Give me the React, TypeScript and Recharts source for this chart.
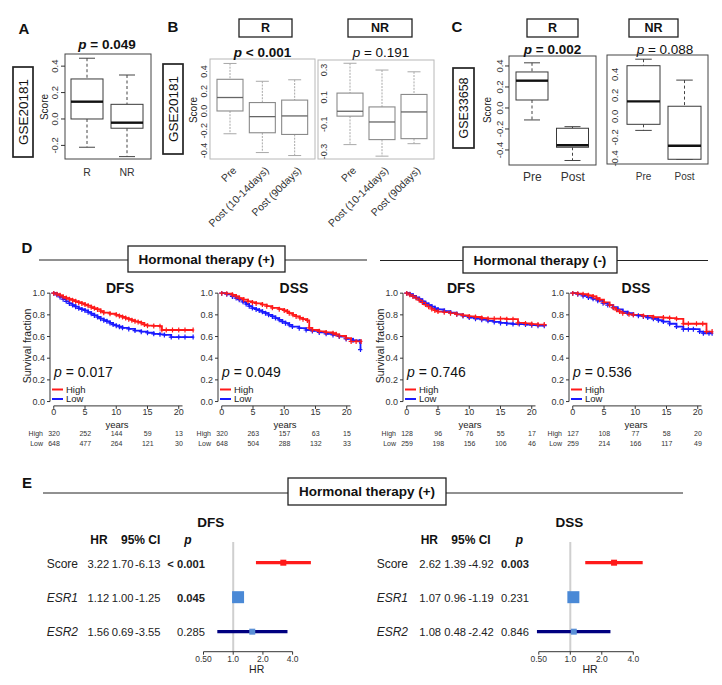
import React from 'react';
import {
  Bar,
  BarChart,
  Line,
  LineChart,
  ReferenceLine,
  Scatter,
  ScatterChart,
  XAxis,
  YAxis,
} from 'recharts';

const FONT = '"Liberation Sans", Arial, Helvetica, sans-serif';

type Box = { name: string; min: number; q1: number; med: number; q3: number; max: number };

// A: GSE20181, responders vs non-responders
const boxA: Box[] = [
  { name: 'R', min: -0.214, q1: 0.0, med: 0.131, q3: 0.303, max: 0.46 },
  { name: 'NR', min: -0.285, q1: -0.07, med: -0.028, q3: 0.111, max: 0.333 },
];
// B: GSE20181 time course
const boxBR: Box[] = [
  { name: 'Pre', min: -0.23, q1: 0.0, med: 0.136, q3: 0.32, max: 0.48 },
  { name: 'Post (10-14days)', min: -0.42, q1: -0.22, med: -0.057, q3: 0.085, max: 0.3 },
  { name: 'Post (90days)', min: -0.45, q1: -0.237, med: -0.05, q3: 0.11, max: 0.315 },
];
const boxBNR: Box[] = [
  { name: 'Pre', min: -0.25, q1: -0.04, med: -0.004, q3: 0.13, max: 0.35 },
  { name: 'Post (10-14days)', min: -0.335, q1: -0.213, med: -0.083, q3: 0.028, max: 0.3 },
  { name: 'Post (90days)', min: -0.243, q1: -0.206, med: -0.009, q3: 0.12, max: 0.287 },
];
// C: GSE33658
const boxCR: Box[] = [
  { name: 'Pre', min: -0.114, q1: 0.076, med: 0.26, q3: 0.343, max: 0.43 },
  { name: 'Post', min: -0.5, q1: -0.374, med: -0.355, q3: -0.193, max: -0.178 },
];
const boxCNR: Box[] = [
  { name: 'Pre', min: -0.133, q1: -0.075, med: 0.143, q3: 0.483, max: 0.545 },
  { name: 'Post', min: -0.408, q1: -0.408, med: -0.279, q3: 0.097, max: 0.346 },
];

const ticksA = [-0.2, 0, 0.2, 0.4];
const ticksBR = [-0.4, -0.2, 0, 0.2, 0.4];
const ticksBNR = [-0.3, -0.1, 0.1, 0.3];
const ticksC = [-0.4, -0.2, 0, 0.2, 0.4];

// D: Kaplan-Meier curves [years, survival]
const dfsPosHigh: [number, number][] = [
  [0, 1], [0.5, 0.99], [1, 0.98], [1.5, 0.965], [2, 0.955], [2.5, 0.945], [3, 0.935], [3.5, 0.925],
  [4, 0.915], [4.5, 0.905], [5, 0.895], [5.5, 0.885], [6, 0.87], [6.5, 0.86], [7, 0.85], [7.5, 0.835],
  [8, 0.82], [9, 0.81], [10, 0.8], [10.5, 0.79], [11, 0.78], [11.5, 0.77], [12, 0.76], [12.5, 0.75],
  [13, 0.74], [13.5, 0.735], [14, 0.725], [14.5, 0.71], [15, 0.7], [16, 0.698], [17, 0.695],
  [17.3, 0.66], [18, 0.66], [19, 0.66], [20, 0.66], [21, 0.66], [22.3, 0.66],
];
const dfsPosLow: [number, number][] = [
  [0, 1], [0.5, 0.985], [1, 0.965], [1.5, 0.945], [2, 0.925], [2.5, 0.905], [3, 0.89], [3.5, 0.875],
  [4, 0.86], [4.5, 0.85], [5, 0.84], [5.5, 0.825], [6, 0.81], [6.5, 0.795], [7, 0.78], [7.5, 0.765],
  [8, 0.75], [8.5, 0.74], [9, 0.725], [9.5, 0.71], [10, 0.7], [10.5, 0.69], [11, 0.68], [12, 0.67],
  [13, 0.655], [14, 0.645], [15, 0.635], [16, 0.625], [17, 0.62], [17.7, 0.615], [18.8, 0.595],
  [20, 0.595], [21, 0.595], [22.3, 0.595],
];
const dssPosHigh: [number, number][] = [
  [0, 1], [0.8, 0.995], [1.7, 0.985], [2.3, 0.97], [2.8, 0.955], [3.5, 0.94], [4.2, 0.925], [4.9, 0.915],
  [5.5, 0.905], [6.5, 0.895], [7.2, 0.88], [8.1, 0.865], [9.2, 0.852], [10, 0.84], [10.5, 0.83],
  [10.8, 0.815], [11.4, 0.8], [11.9, 0.785], [12.5, 0.772], [13, 0.76], [13.7, 0.748], [14, 0.68],
  [14.5, 0.66], [15.6, 0.648], [16.7, 0.638], [17.8, 0.63], [18.3, 0.62], [18.8, 0.605], [19.9, 0.585],
  [20.7, 0.555], [21.5, 0.555], [22.3, 0.555],
];
const dssPosLow: [number, number][] = [
  [0, 1], [0.8, 0.99], [1.7, 0.97], [2.3, 0.955], [2.8, 0.94], [3.4, 0.92], [3.9, 0.9], [4.4, 0.88],
  [4.9, 0.862], [5.5, 0.85], [6, 0.84], [6.5, 0.828], [7, 0.815], [7.5, 0.8], [8.1, 0.785], [8.6, 0.77],
  [9.2, 0.754], [9.7, 0.738], [10.2, 0.723], [10.8, 0.708], [11.3, 0.692], [12.4, 0.677], [13.5, 0.66],
  [14.5, 0.652], [15.6, 0.638], [16.7, 0.625], [17.8, 0.615], [18.8, 0.6], [19.9, 0.578], [21, 0.565],
  [22.1, 0.555], [22.2, 0.48],
];
const dfsNegHigh: [number, number][] = [
  [0, 1], [0.5, 0.985], [1, 0.97], [1.5, 0.955], [2, 0.935], [2.5, 0.915], [3, 0.895], [3.5, 0.875],
  [4, 0.855], [4.5, 0.84], [5, 0.83], [6, 0.825], [7, 0.815], [8, 0.805], [9, 0.795], [10, 0.785],
  [11, 0.78], [12, 0.77], [13, 0.765], [14, 0.765], [15, 0.765], [16, 0.76], [17, 0.76], [17.8, 0.725],
  [19, 0.72], [20, 0.715], [21, 0.71], [22, 0.71],
];
const dfsNegLow: [number, number][] = [
  [0, 1], [0.5, 0.99], [1, 0.975], [1.5, 0.96], [2, 0.945], [2.5, 0.925], [3, 0.905], [3.5, 0.89],
  [4, 0.875], [4.5, 0.86], [5, 0.85], [6, 0.835], [7, 0.82], [8, 0.805], [9, 0.79], [10, 0.775],
  [11, 0.765], [12, 0.755], [13, 0.745], [14, 0.735], [15, 0.725], [16, 0.72], [17, 0.715], [18, 0.715],
  [19, 0.71], [20, 0.705], [21, 0.7], [22, 0.7],
];
const dssNegHigh: [number, number][] = [
  [0, 1], [0.8, 0.995], [1.65, 0.99], [2.5, 0.98], [3.25, 0.97], [3.8, 0.955], [4.3, 0.94], [5, 0.915],
  [5.9, 0.89], [6.5, 0.865], [7, 0.846], [7.5, 0.83], [8, 0.815], [9, 0.805], [9.7, 0.8], [11.3, 0.79],
  [12.9, 0.778], [14.5, 0.775], [15.5, 0.77], [16.6, 0.763], [17.7, 0.718], [18.5, 0.718], [19.8, 0.718],
  [20.8, 0.718], [21.4, 0.646], [22.3, 0.646],
];
const dssNegLow: [number, number][] = [
  [0, 1], [0.8, 0.99], [1.65, 0.975], [2.5, 0.96], [3.25, 0.948], [4, 0.93], [4.85, 0.908], [5.6, 0.89],
  [6.45, 0.87], [7.2, 0.85], [8, 0.83], [8.8, 0.815], [9.7, 0.8], [10.5, 0.792], [11.3, 0.785], [12, 0.775],
  [12.9, 0.763], [13.7, 0.75], [14.5, 0.738], [15.5, 0.718], [16.6, 0.692], [17.7, 0.668], [18.5, 0.668],
  [19.3, 0.668], [20.3, 0.646], [20.9, 0.63], [21.8, 0.63], [22.3, 0.63],
];

const kmYears = [0, 5, 10, 15, 20];
const kmSurvTicks = [0, 0.2, 0.4, 0.6, 0.8, 1];
const kmPValues = ['0.017', '0.049', '0.746', '0.536'];

// numbers at risk at 0, 5, 10, 15, 20 years
const riskDfsPosHigh = [320, 252, 144, 59, 13];
const riskDfsPosLow = [648, 477, 264, 121, 30];
const riskDssPosHigh = [320, 263, 157, 63, 15];
const riskDssPosLow = [648, 504, 288, 132, 33];
const riskDfsNegHigh = [128, 96, 76, 55, 17];
const riskDfsNegLow = [259, 198, 156, 106, 46];
const riskDssNegHigh = [127, 108, 77, 58, 20];
const riskDssNegLow = [259, 214, 166, 117, 49];

// E: multivariate Cox, hormonal therapy (+)
const forestVars = ['Score', 'ESR1', 'ESR2'];
const forestRowPos = [3, 2, 1];
const dfsHR = [3.22, 1.12, 1.56];
const dfsLow = [1.7, 1.0, 0.69];
const dfsHigh = [6.13, 1.25, 3.55];
const dfsP = ['< 0.001', '0.045', '0.285'];
const dssHR = [2.62, 1.07, 1.08];
const dssLow = [1.39, 0.96, 0.48];
const dssHigh = [4.92, 1.19, 2.42];
const dssP = ['0.003', '0.231', '0.846'];
const forestTicks = [0.5, 1, 2, 4];

const RED = '#ff1a1a';
const BLUE = '#1a1aff';

type Look = { stroke: string; lw: number; median: string; medianW: number; whisker: string; dash: string };
const darkLook: Look = { stroke: '#3a3a3a', lw: 1, median: '#111', medianW: 2.4, whisker: '#444', dash: '3,2.5' };
const greyLook: Look = { stroke: '#8a8a8a', lw: 1.1, median: '#666', medianW: 1.3, whisker: '#a8a8a8', dash: '2,1.2' };

function boxShape(look: Look) {
  return (props: any) => {
    const { x, y, width, height, payload } = props;
    const d: Box = payload;
    const top = Math.min(y, y + height);
    const bot = Math.max(y, y + height);
    const py = (v: number) => top + ((d.max - v) / (d.max - d.min)) * (bot - top);
    const cx = x + width / 2;
    const cap = width / 4;
    return (
      <g>
        <line x1={cx} x2={cx} y1={py(d.max)} y2={py(d.q3)} stroke={look.whisker} strokeDasharray={look.dash} />
        <line x1={cx} x2={cx} y1={py(d.q1)} y2={py(d.min)} stroke={look.whisker} strokeDasharray={look.dash} />
        <line x1={cx - cap} x2={cx + cap} y1={py(d.max)} y2={py(d.max)} stroke={look.whisker} />
        <line x1={cx - cap} x2={cx + cap} y1={py(d.min)} y2={py(d.min)} stroke={look.whisker} />
        <rect x={x} y={py(d.q3)} width={width} height={py(d.q1) - py(d.q3)} fill="#fff" stroke={look.stroke} strokeWidth={look.lw} />
        <line x1={x} x2={x + width} y1={py(d.med)} y2={py(d.med)} stroke={look.median} strokeWidth={look.medianW} />
      </g>
    );
  };
}

type BoxPanelProps = {
  data: Box[];
  domain: [number, number];
  ticks: number[];
  plotL: number;
  plotR: number;
  top: number;
  h: number;
  pad: [number, number];
  barSize: number;
  look: Look;
  yTickSize: number;
  yTickGap: number;
  yFont: number;
  rotX?: boolean;
  xFont: number;
  xDy: number;
  tickColor: string;
};

const M = 8; // spare room around every chart so edge labels are not clipped

function BoxPanel(p: BoxPanelProps) {
  const wy = 30;
  const hx = p.rotX ? 80 : 30;
  const plotW = p.plotR - p.plotL;
  return (
    <div style={{ position: 'absolute', left: p.plotL - wy, top: p.top - M }}>
      <BarChart
        width={wy + plotW + M}
        height={p.h + hx + M}
        data={p.data}
        margin={{ top: M, right: M, bottom: 0, left: 0 }}
      >
        <XAxis
          dataKey="name"
          type="category"
          interval={0}
          padding={{ left: p.pad[0], right: p.pad[1] }}
          axisLine={false}
          tickLine={false}
          tickSize={0}
          tickMargin={0}
          height={hx}
          tick={(t: any) =>
            p.rotX ? (
              <text
                x={t.x + 7}
                y={t.y + 12}
                transform={`rotate(-45 ${t.x + 7} ${t.y + 12})`}
                textAnchor="end"
                fontSize={p.xFont}
                fill={p.tickColor}
                fontFamily={FONT}
              >
                {t.payload.value}
              </text>
            ) : (
              <text x={t.x} y={t.y + p.xDy} textAnchor="middle" fontSize={p.xFont} fill={p.tickColor} fontFamily={FONT}>
                {t.payload.value}
              </text>
            )
          }
        />
        <YAxis
          type="number"
          domain={p.domain}
          ticks={p.ticks}
          interval={0}
          allowDataOverflow
          width={wy}
          axisLine={false}
          tickLine={p.yTickSize > 0 ? { stroke: p.tickColor } : false}
          tickSize={p.yTickSize}
          tickMargin={p.yTickGap}
          tick={(t: any) => (
            <text
              x={t.x}
              y={t.y}
              transform={`rotate(-90 ${t.x} ${t.y})`}
              textAnchor="middle"
              fontSize={p.yFont}
              fill={p.tickColor}
              fontFamily={FONT}
            >
              {Number(t.payload.value).toFixed(1)}
            </text>
          )}
        />
        <Bar
          dataKey={(d: Box) => [d.min, d.max]}
          barSize={p.barSize}
          isAnimationActive={false}
          shape={boxShape(p.look)}
        />
      </BarChart>
    </div>
  );
}

const plusDot = (color: string) => (d: any) => (
  <path
    key={`c${d.index}`}
    d={`M${d.cx - 2.5},${d.cy}h5M${d.cx},${d.cy - 2.5}v5`}
    stroke={color}
    strokeWidth={1.2}
    fill="none"
  />
);

const KM_PX_YEAR = 6.25;
const KM_TOP = 291.1;
const KM_H = 114.9;

function KMPanel({ x0, high, low }: { x0: number; high: [number, number][]; low: [number, number][] }) {
  const wy = 30;
  const hx = 16;
  const plotW = 23.1 * KM_PX_YEAR;
  const toRows = (arr: [number, number][]) => arr.map(([t, s]) => ({ t, s }));
  return (
    <div style={{ position: 'absolute', left: x0 - 0.6 * KM_PX_YEAR - wy, top: KM_TOP - M }}>
      <LineChart
        width={wy + plotW + M}
        height={KM_H + hx + M}
        margin={{ top: M, right: M, bottom: 0, left: 0 }}
      >
        <XAxis
          type="number"
          dataKey="t"
          domain={[-0.6, 22.5]}
          ticks={kmYears}
          interval={0}
          allowDataOverflow
          axisLine={false}
          tickSize={3}
          tickMargin={0}
          height={hx}
          tickLine={{ stroke: '#333' }}
          tick={{ fontSize: 9, fill: '#333', fontFamily: FONT }}
        />
        <YAxis
          type="number"
          domain={[-0.04, 1.02]}
          ticks={kmSurvTicks}
          interval={0}
          allowDataOverflow
          width={wy}
          axisLine={false}
          tickSize={3}
          tickMargin={2}
          tickLine={{ stroke: '#333' }}
          tickFormatter={(v: number) => v.toFixed(1)}
          tick={{ fontSize: 9, fill: '#333', fontFamily: FONT }}
        />
        <ReferenceLine segment={[{ x: 0, y: -0.04 }, { x: 20.6, y: -0.04 }]} stroke="#333" ifOverflow="visible" />
        <ReferenceLine segment={[{ x: -0.6, y: 0 }, { x: -0.6, y: 1 }]} stroke="#333" ifOverflow="visible" />
        <Line
          data={toRows(low)}
          dataKey="s"
          type="stepAfter"
          stroke={BLUE}
          strokeWidth={1.8}
          dot={plusDot(BLUE)}
          isAnimationActive={false}
        />
        <Line
          data={toRows(high)}
          dataKey="s"
          type="stepAfter"
          stroke={RED}
          strokeWidth={1.8}
          dot={plusDot(RED)}
          isAnimationActive={false}
        />
      </LineChart>
    </div>
  );
}

const rowStyle = [
  { line: RED, point: RED, size: 6 },
  { line: '#000080', point: '#4a89d6', size: 12 },
  { line: '#000080', point: '#5b90d6', size: 6 },
];

const emptyShape = () => <g />;
const squareShape = (size: number, fill: string) => (s: any) => (
  <rect x={s.cx - size / 2} y={s.cy - size / 2} width={size} height={size} fill={fill} />
);

const FOREST_TOP = 542.3;
const FOREST_H = 109.7;

function ForestPanel({ hr1X, per2, hr, lo, hi }: { hr1X: number; per2: number; hr: number[]; lo: number[]; hi: number[] }) {
  const plotL = hr1X + Math.log2(0.45) * per2;
  const plotW = (Math.log2(7) - Math.log2(0.45)) * per2;
  const hx = 16;
  const side = 12;
  return (
    <div style={{ position: 'absolute', left: plotL - side, top: FOREST_TOP }}>
      <ScatterChart
        width={plotW + 2 * side}
        height={FOREST_H + hx}
        margin={{ top: 0, right: side, bottom: 0, left: side }}
      >
        <XAxis
          type="number"
          dataKey="hr"
          scale="log"
          domain={[0.45, 7]}
          ticks={forestTicks}
          interval={0}
          allowDataOverflow
          axisLine={false}
          tickSize={3}
          tickMargin={1}
          height={hx}
          tickLine={{ stroke: '#333' }}
          tickFormatter={(v: number) => (v === 0.5 ? '0.50' : v.toFixed(1))}
          tick={{ fontSize: 8.5, fill: '#333', fontFamily: FONT }}
        />
        <YAxis type="number" dataKey="row" domain={[0.42, 3.6]} hide width={0} />
        <ReferenceLine x={1} stroke="#cfcfcf" strokeWidth={2} />
        <ReferenceLine segment={[{ x: 0.5, y: 0.42 }, { x: 4, y: 0.42 }]} stroke="#333" ifOverflow="visible" />
        {forestVars.map((v, i) => (
          <Scatter
            key={`ci-${v}`}
            data={[
              { hr: lo[i], row: forestRowPos[i] },
              { hr: hi[i], row: forestRowPos[i] },
            ]}
            line={{ stroke: rowStyle[i].line, strokeWidth: 3.2 }}
            shape={emptyShape}
            isAnimationActive={false}
          />
        ))}
        {forestVars.map((v, i) => (
          <Scatter
            key={`pt-${v}`}
            data={[{ hr: hr[i], row: forestRowPos[i] }]}
            shape={squareShape(rowStyle[i].size, rowStyle[i].point)}
            isAnimationActive={false}
          />
        ))}
      </ScatterChart>
    </div>
  );
}

function PTitle({ x, y, value, op, bold }: { x: number; y: number; value: string; op: string; bold: boolean }) {
  return (
    <text x={x} y={y} textAnchor="middle" fontSize={13.5} fontWeight={bold ? 'bold' : 'normal'} fill="#111">
      <tspan fontStyle="italic">p</tspan> {op} {value}
    </text>
  );
}

function HeaderBox({ x, y, w, h, label, size }: { x: number; y: number; w: number; h: number; label: string; size: number }) {
  return (
    <g>
      <rect x={x} y={y} width={w} height={h} fill="#fff" stroke="#222" strokeWidth={1.3} />
      <text x={x + w / 2} y={y + h / 2} dominantBaseline="central" textAnchor="middle" fontSize={size} fontWeight="bold" fill="#111">
        {label}
      </text>
    </g>
  );
}

function GseBox({ x, y, w, h, label, size }: { x: number; y: number; w: number; h: number; label: string; size: number }) {
  const cx = x + w / 2;
  const cy = y + h / 2;
  return (
    <g>
      <rect x={x} y={y} width={w} height={h} fill="#fff" stroke="#222" strokeWidth={1.7} />
      <text
        x={cx}
        y={cy}
        transform={`rotate(-90 ${cx} ${cy})`}
        dominantBaseline="central"
        textAnchor="middle"
        fontSize={size}
        fill="#111"
      >
        {label}
      </text>
    </g>
  );
}

const kmPanels = [
  { x0: 54, title: 'DFS', titleX: 120, yLabel: true, high: dfsPosHigh, low: dfsPosLow, rh: riskDfsPosHigh, rl: riskDfsPosLow },
  { x0: 222, title: 'DSS', titleX: 294, yLabel: false, high: dssPosHigh, low: dssPosLow, rh: riskDssPosHigh, rl: riskDssPosLow },
  { x0: 407, title: 'DFS', titleX: 461, yLabel: true, high: dfsNegHigh, low: dfsNegLow, rh: riskDfsNegHigh, rl: riskDfsNegLow },
  { x0: 573, title: 'DSS', titleX: 636, yLabel: false, high: dssNegHigh, low: dssNegLow, rh: riskDssNegHigh, rl: riskDssNegLow },
];

const forestPanels = [
  { title: 'DFS', titleX: 210.7, hr1X: 233, per2: 29.7, labelR: 78, hrX: 87.5, loX: 111.7, hiX: 135, pR: 205, hdrHR: 99, hdrCI: 140.7, hdrP: 188, axisX: 256.7, hr: dfsHR, lo: dfsLow, hi: dfsHigh, p: dfsP },
  { title: 'DSS', titleX: 569.3, hr1X: 570.5, per2: 31.5, labelR: 408, hrX: 419.3, loX: 444.3, hiX: 468.3, pR: 529, hdrHR: 429.3, hdrCI: 471, hdrP: 519.3, axisX: 590, hr: dssHR, lo: dssLow, hi: dssHigh, p: dssP },
];
const forestRowY = [567.5, 602.3, 636.3];

export default function App() {
  return (
    <div
      style={{
        position: 'absolute',
        left: 0,
        top: 0,
        width: 722,
        height: 685,
        background: '#fff',
        fontFamily: FONT,
        overflow: 'hidden',
      }}
    >
      <svg width={722} height={685} style={{ position: 'absolute', left: 0, top: 0 }} fontFamily={FONT}>
        {/* panel letters */}
        {[
          ['A', 24, 28],
          ['B', 173, 26],
          ['C', 457, 26],
          ['D', 27, 247],
          ['E', 27, 482],
        ].map(([l, x, y]) => (
          <text key={String(l)} x={Number(x)} y={Number(y)} dominantBaseline="central" textAnchor="middle" fontSize={15} fontWeight="bold" fill="#111">
            {l}
          </text>
        ))}

        {/* A-C frames and labels */}
        <rect x={65} y={54} width={86} height={105} fill="none" stroke="#444" />
        <rect x={210} y={59} width={105} height={100} fill="none" stroke="#b8b8b8" />
        <rect x={318} y={60} width={116} height={99} fill="none" stroke="#b8b8b8" />
        <rect x={509} y={56} width={87} height={109} fill="none" stroke="#444" />
        <rect x={607} y={55} width={101} height={109} fill="none" stroke="#444" />

        <GseBox x={13} y={67} w={20} h={90} label="GSE20181" size={13.5} />
        <GseBox x={163} y={64} w={20} h={90} label="GSE20181" size={13.5} />
        <GseBox x={453} y={68} w={21} h={80} label="GSE33658" size={12.5} />

        <HeaderBox x={239} y={19} w={53} h={18} label="R" size={12.5} />
        <HeaderBox x={348} y={19} w={64} h={18} label="NR" size={12.5} />
        <HeaderBox x={527} y={19} w={51} h={18} label="R" size={12.5} />
        <HeaderBox x={629} y={19} w={49} h={18} label="NR" size={12.5} />

        <PTitle x={107} y={49} op="=" value="0.049" bold />
        <PTitle x={262.5} y={56.5} op="<" value="0.001" bold />
        <PTitle x={381} y={56.5} op="=" value="0.191" bold={false} />
        <PTitle x={552.5} y={54} op="=" value="0.002" bold />
        <PTitle x={665} y={54} op="=" value="0.088" bold={false} />

        {[
          [44, 107],
          [193, 110],
          [487, 110],
        ].map(([x, y]) => (
          <text key={`s${x}`} x={x} y={y} transform={`rotate(-90 ${x} ${y})`} dominantBaseline="central" textAnchor="middle" fontSize={10} fill="#222">
            Score
          </text>
        ))}

        {/* D header */}
        <line x1={39} x2={128} y1={260} y2={260} stroke="#222" />
        <line x1={285} x2={367} y1={260} y2={260} stroke="#222" />
        <HeaderBox x={128} y={246} w={157} h={26} label="Hormonal therapy (+)" size={13.5} />
        <line x1={380} x2={463} y1={260.5} y2={260.5} stroke="#222" />
        <line x1={617} x2={708} y1={260.5} y2={260.5} stroke="#222" />
        <HeaderBox x={463} y={247} w={154} h={26} label="Hormonal therapy (-)" size={13.5} />

        {kmPanels.map((k, i) => (
          <g key={`kmt${i}`}>
            <text x={k.titleX} y={288} dominantBaseline="central" textAnchor="middle" fontSize={14} fontWeight="bold" fill="#111">
              {k.title}
            </text>
            <text x={k.x0} y={376.5} fontSize={14} fill="#111">
              <tspan fontStyle="italic">p</tspan> = {kmPValues[i]}
            </text>
            <line x1={k.x0 - 2} x2={k.x0 + 9} y1={389.5} y2={389.5} stroke={RED} strokeWidth={2} />
            <line x1={k.x0 - 2} x2={k.x0 + 9} y1={399} y2={399} stroke={BLUE} strokeWidth={2} />
            <text x={k.x0 + 12} y={392.8} fontSize={9.5} fill="#222">High</text>
            <text x={k.x0 + 12} y={402.3} fontSize={9.5} fill="#222">Low</text>
            {k.yLabel && (
              <text
                x={k.x0 - 27}
                y={346}
                transform={`rotate(-90 ${k.x0 - 27} 346)`}
                dominantBaseline="central"
                textAnchor="middle"
                fontSize={10.5}
                fill="#222"
              >
                Survival fraction
              </text>
            )}
            <text x={k.x0 + 63} y={424} dominantBaseline="central" textAnchor="middle" fontSize={9.5} fill="#222">
              years
            </text>
            <text x={k.x0 - 11} y={436} textAnchor="end" fontSize={7} fill="#333">High</text>
            <text x={k.x0 - 11} y={446} textAnchor="end" fontSize={7} fill="#333">Low</text>
            {kmYears.map((yr, j) => (
              <g key={`r${yr}`}>
                <text x={k.x0 + yr * KM_PX_YEAR} y={436} textAnchor="middle" fontSize={7} fill="#333">{k.rh[j]}</text>
                <text x={k.x0 + yr * KM_PX_YEAR} y={446} textAnchor="middle" fontSize={7} fill="#333">{k.rl[j]}</text>
              </g>
            ))}
          </g>
        ))}

        {/* E header */}
        <line x1={43} x2={288} y1={493} y2={493} stroke="#222" />
        <line x1={446} x2={683} y1={493} y2={493} stroke="#222" />
        <HeaderBox x={288} y={478} w={158} h={27} label="Hormonal therapy (+)" size={13.5} />

        {forestPanels.map((f) => (
          <g key={`ft${f.title}`}>
            <text x={f.titleX} y={527} textAnchor="middle" fontSize={13.5} fontWeight="bold" fill="#111">{f.title}</text>
            <text x={f.hdrHR} y={544} textAnchor="middle" fontSize={12} fontWeight="bold" fill="#111">HR</text>
            <text x={f.hdrCI} y={544} textAnchor="middle" fontSize={12} fontWeight="bold" fill="#111">95% CI</text>
            <text x={f.hdrP} y={544} textAnchor="middle" fontSize={12} fontWeight="bold" fontStyle="italic" fill="#111">p</text>
            {forestVars.map((v, i) => {
              const sig = f.p[i].startsWith('<') || parseFloat(f.p[i]) < 0.05;
              return (
                <g key={`fr${v}`}>
                  <text x={f.labelR} y={forestRowY[i]} textAnchor="end" fontSize={12} fontStyle={i === 0 ? 'normal' : 'italic'} fill="#222">{v}</text>
                  <text x={f.hrX} y={forestRowY[i]} fontSize={11.2} fill="#222">{f.hr[i].toFixed(2)}</text>
                  <text x={f.loX} y={forestRowY[i]} fontSize={11.2} fill="#222">{f.lo[i].toFixed(2)}</text>
                  <text x={f.hiX} y={forestRowY[i]} fontSize={11.2} fill="#222">{`-${f.hi[i].toFixed(2)}`}</text>
                  <text x={f.pR} y={forestRowY[i]} textAnchor="end" fontSize={11.2} fontWeight={sig ? 'bold' : 'normal'} fill="#222">{f.p[i]}</text>
                </g>
              );
            })}
            <text x={f.axisX} y={673} textAnchor="middle" fontSize={10.5} fill="#222">HR</text>
          </g>
        ))}
      </svg>

      <BoxPanel
        data={boxA}
        domain={[-0.303, 0.492]}
        ticks={ticksA}
        plotL={65}
        plotR={151}
        top={54}
        h={105}
        pad={[2, 4]}
        barSize={32}
        look={darkLook}
        yTickSize={4}
        yTickGap={3}
        yFont={9.5}
        xFont={10.5}
        xDy={17}
        tickColor="#333"
      />
      <BoxPanel
        data={boxBR}
        domain={[-0.485, 0.525]}
        ticks={ticksBR}
        plotL={210}
        plotR={315}
        top={59}
        h={100}
        pad={[4, 4]}
        barSize={26}
        look={greyLook}
        yTickSize={0}
        yTickGap={2.5}
        yFont={9}
        rotX
        xFont={10.5}
        xDy={0}
        tickColor="#333"
      />
      <BoxPanel
        data={boxBNR}
        domain={[-0.356, 0.374]}
        ticks={ticksBNR}
        plotL={330}
        plotR={434}
        top={60}
        h={99}
        pad={[4, 4]}
        barSize={26}
        look={greyLook}
        yTickSize={0}
        yTickGap={2.5}
        yFont={9}
        rotX
        xFont={10.5}
        xDy={0}
        tickColor="#333"
      />
      <BoxPanel
        data={boxCR}
        domain={[-0.543, 0.495]}
        ticks={ticksC}
        plotL={509}
        plotR={596}
        top={56}
        h={109}
        pad={[3, 3]}
        barSize={32}
        look={darkLook}
        yTickSize={4}
        yTickGap={2}
        yFont={9.5}
        xFont={12}
        xDy={16}
        tickColor="#333"
      />
      <BoxPanel
        data={boxCNR}
        domain={[-0.453, 0.585]}
        ticks={ticksC}
        plotL={620}
        plotR={708}
        top={55}
        h={109}
        pad={[3, 3]}
        barSize={33}
        look={darkLook}
        yTickSize={0}
        yTickGap={2}
        yFont={9.5}
        xFont={10}
        xDy={16}
        tickColor="#333"
      />

      {kmPanels.map((k, i) => (
        <KMPanel key={`km${i}`} x0={k.x0} high={k.high} low={k.low} />
      ))}

      {forestPanels.map((f) => (
        <ForestPanel key={`fp${f.title}`} hr1X={f.hr1X} per2={f.per2} hr={f.hr} lo={f.lo} hi={f.hi} />
      ))}
    </div>
  );
}
